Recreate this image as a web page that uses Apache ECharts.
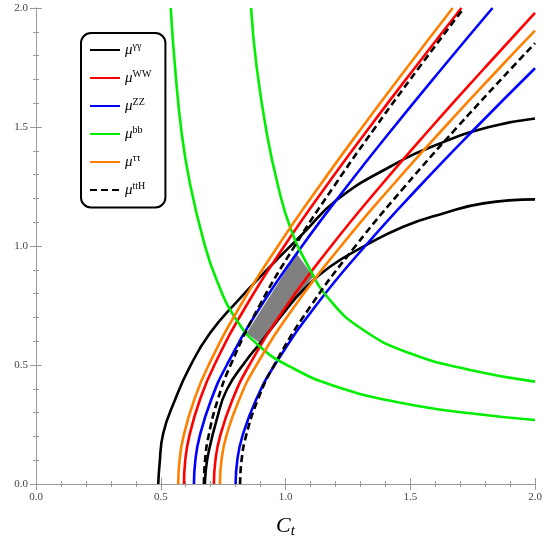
<!DOCTYPE html>
<html><head><meta charset="utf-8">
<script src="https://cdn.jsdelivr.net/npm/echarts@6/dist/echarts.min.js"></script>
<style>html,body{margin:0;padding:0;background:#fff}#c{width:545px;height:543px}</style>
</head><body><div id="c"></div>
<script>
const xTicks = [0.0, 0.5, 1.0, 1.5, 2.0];
const yTicks = [0.0, 0.5, 1.0, 1.5, 2.0];
const names = ['γγ','WW','ZZ','bb','ττ','ttH'];
const gammaUpper = [[0.49,0],[0.495,0.08],[0.51,0.213],[0.557,0.353],[0.617,0.493],[0.697,0.633],[0.811,0.773],[0.938,0.913],[1.071,1.053],[1.205,1.193],[1.419,1.333],[1.619,1.431],[1.82,1.501],[2.0,1.536]];
const gammaLower = [[0.677,0],[0.681,0.06],[0.691,0.129],[0.724,0.269],[0.764,0.395],[0.844,0.521],[0.898,0.591],[0.991,0.717],[1.071,0.815],[1.178,0.913],[1.312,0.997],[1.472,1.081],[1.632,1.137],[1.793,1.179],[2.0,1.196]];
const cbs = [0,0.1,0.2,0.35,0.5,0.75,1.0,1.25,1.5,1.75,2.0];
const wwLeftCt = [0.593,0.5983,0.6142,0.6557,0.7151,0.8432,0.9953,1.1619,1.3377,1.5194,1.7051];
const wwRightCt = [0.713,0.7192,0.7376,0.7859,0.8552,1.005,1.1833,1.379,1.5858,1.7998,2.0];
const wwRightCb = [0,0.1,0.2,0.35,0.5,0.75,1.0,1.25,1.5,1.75,1.98];
const zzLeftCt = [0.633,0.6388,0.6559,0.7007,0.7648,0.9029,1.0665,1.2458,1.4347,1.6301,1.8297];
const zzRightCt = [0.80,0.8068,0.827,0.8803,0.9567,1.1222,1.3195,1.5364,1.7656,2.0];
const zzRightCb = [0,0.1,0.2,0.35,0.5,0.75,1.0,1.25,1.5,1.747];
const tauLeftCt = [0.57,0.5754,0.5912,0.6328,0.692,0.8195,0.97,1.1347,1.3081,1.4872,1.6702];
const tauRightCt = [0.737,0.7434,0.7624,0.8123,0.8838,1.0386,1.2227,1.4249,1.6385,1.8596,2.0];
const tauRightCb = [0,0.1,0.2,0.35,0.5,0.75,1.0,1.25,1.5,1.75,1.905];
const tthLeftCt = [0.673,0.6776,0.6912,0.7274,0.78,0.896,1.0368,1.1936,1.361,1.5355,1.7149];
const tthRightCt = [0.818,0.8239,0.8414,0.8877,0.9549,1.1023,1.2805,1.4784,1.6891,1.9084,2.0];
const tthRightCb = [0,0.1,0.2,0.35,0.5,0.75,1.0,1.25,1.5,1.75,1.852];
const bbLeft = [[0.54,2.0],[0.557,1.755],[0.584,1.473],[0.617,1.263],[0.671,1.025],[0.724,0.857],[0.804,0.689],[0.898,0.577],[1.018,0.493],[1.205,0.409],[1.472,0.339],[1.739,0.297],[2.0,0.269]];
const bbRight = [[0.862,2.0],[0.884,1.755],[0.925,1.473],[0.971,1.249],[1.018,1.081],[1.085,0.927],[1.178,0.773],[1.312,0.647],[1.499,0.549],[1.739,0.479],[2.0,0.43]];
const allowed = [[0.844,0.633],[1.045,0.969],[1.112,0.871],[0.898,0.591]];

const zip = (xs, ys) => xs.map((x,i)=>[x, ys[i]]);
const serif = 'Liberation Serif';
function line(name, data, color, dashed){
  return {type:'line', name, data, smooth:0.5, showSymbol:false, symbol:'none', z:3,
    lineStyle:{color, width:2.6, type: dashed?[7,4]:'solid'}, itemStyle:{color}};
}
const series = [
  {type:'custom', name:'region', silent:true, z:1, data:[0],
   renderItem:(p, api)=>({type:'polygon', shape:{points: allowed.map(q=>api.coord(q))}, style:{fill:'#808080'}})},
  line('γγ', gammaUpper, '#000'), line('γγ', gammaLower, '#000'),
  line('WW', zip(wwLeftCt, cbs), '#ff0000'), line('WW', zip(wwRightCt, wwRightCb), '#ff0000'),
  line('ZZ', zip(zzLeftCt, cbs), '#0000ff'), line('ZZ', zip(zzRightCt, zzRightCb), '#0000ff'),
  line('bb', bbLeft, '#00ee00'), line('bb', bbRight, '#00ee00'),
  line('ττ', zip(tauLeftCt, cbs), '#ff8000'), line('ττ', zip(tauRightCt, tauRightCb), '#ff8000'),
  line('ttH', zip(tthLeftCt, cbs), '#000', true), line('ttH', zip(tthRightCt, tthRightCb), '#000', true)
];
const axColor = '#999';
function ax(dim, pos, show){
  const o = {type:'value', min:0, max:2, interval:0.5, position:pos,
    axisLine:{show:true, lineStyle:{color:axColor, width:1}},
    axisTick:{show:true, inside:true, length:6, lineStyle:{color:axColor}},
    minorTick:{show:true, splitNumber:5, length:3, lineStyle:{color:axColor}},
    splitLine:{show:false},
    axisLabel:{show:show, fontFamily:serif, fontSize:11, color:'#444', formatter:v=>v.toFixed(1)}};
  if (show) {
    o.nameLocation='middle';
    o.nameTextStyle={rich:{m:{fontFamily:serif, fontStyle:'italic', fontSize:22, color:'#000'}, s:{fontFamily:serif, fontStyle:'italic', fontSize:15, color:'#000', padding:[10,0,0,0]}}};
    if (dim==='x'){ o.name='{m|C}{s|t}'; o.nameGap=30; }
    else { o.name='{m|C}{s|b}'; o.nameGap=22; o.nameRotate=90; }
  }
  return o;
}
const chart = echarts.init(document.getElementById('c'));
chart.setOption({
  animation:false,
  grid:{left:36, right:10, top:8, bottom:59, containLabel:false, outerBoundsMode:'none'},
  xAxis:[ax('x','bottom',true), ax('x','top',false)],
  yAxis:[ax('y','left',true), ax('y','right',false)],
  legend:{data:names, orient:'vertical', left:81, top:33, itemGap:11.5, itemWidth:30, itemHeight:14,
    padding:[8,14,10,8], borderColor:'#000', borderWidth:2, borderRadius:10, backgroundColor:'#fff',
    selectedMode:false, itemStyle:{opacity:0},
    formatter:n=>'{m|μ}{s|'+n+'}',
    textStyle:{rich:{m:{fontFamily:serif, fontStyle:'italic', fontSize:15, color:'#000'}, s:{fontFamily:serif, fontSize:10, color:'#000', padding:[0,0,8,0]}}}},
  series
});
</script></body></html>
